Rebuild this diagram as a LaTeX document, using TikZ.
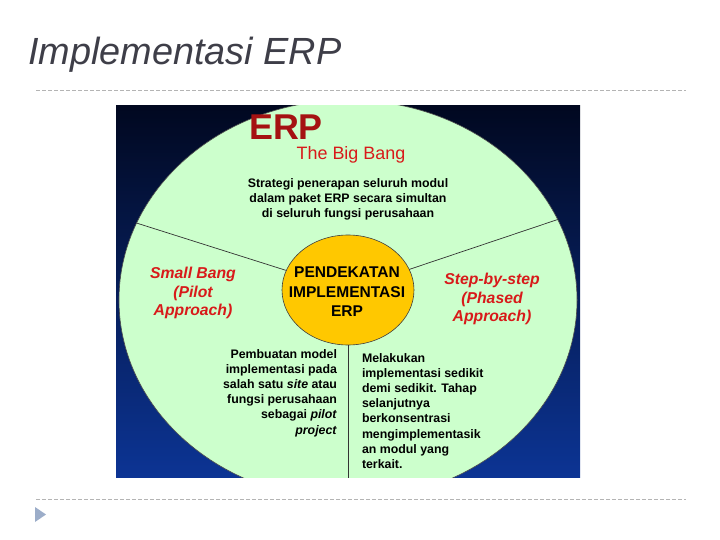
\documentclass[tikz,border=0pt]{standalone}
\usepackage{fontspec}
\setmainfont{Liberation Sans}
\usetikzlibrary{shapes.geometric}

\definecolor{navytop}{HTML}{010820}
\definecolor{navymid}{HTML}{08236C}
\definecolor{navybot}{HTML}{0C3494}
\definecolor{palegreen}{HTML}{CCFFCC}
\definecolor{hubgold}{HTML}{FFC800}
\definecolor{erpred}{HTML}{A51212}
\definecolor{labelred}{HTML}{D81A1A}
\definecolor{titlegray}{HTML}{3E3E48}
\definecolor{rulegray}{HTML}{B4B4B4}
\definecolor{bulletblue}{HTML}{9CADC9}

\begin{document}
\begin{tikzpicture}[x=1bp, y=-1bp,
    every node/.style={inner sep=0pt, outer sep=0pt},
    rule/.style={rulegray, line width=0.8bp, dash pattern=on 4bp off 2bp},
    spoke/.style={black!80, line width=0.7bp},
    body/.style={font=\bfseries\fontsize{12.4}{15.2}\selectfont, text=black},
    method/.style={font=\bfseries\itshape\fontsize{15.8}{19}\selectfont, text=labelred, align=center}]
    \useasboundingbox (0,0) rectangle (720,540);
    \node[anchor=base west, text=titlegray, font=\itshape\fontsize{38}{44}\selectfont] (title) at (28,65) {Implementasi ERP};
    \coordinate (ruleTL) at (36,90);
    \coordinate (ruleTR) at (686,90);
    \coordinate (ruleBL) at (36,499);
    \coordinate (ruleBR) at (686,499);
    \draw[rule] (ruleTL) -- (ruleTR);
    \draw[rule] (ruleBL) -- (ruleBR);
    \fill[bulletblue] (35,507) -- (46,514.5) -- (35,522) -- cycle;
    \shade[top color=navytop, middle color=navymid, bottom color=navybot] (116,106) rectangle (580,477);
    \begin{scope}
        \clip (116,106) rectangle (580,477);
        \node[ellipse, draw=black!70, line width=0.6bp, fill=palegreen, minimum width=458bp, minimum height=400bp] (oval) at (348,300) {};
        \node[ellipse, draw=black!75, line width=0.6bp, fill=hubgold, minimum width=132bp, minimum height=110bp] (hub) at (348,290) {};
        \draw[spoke] (hub) -- (oval.160);
        \draw[spoke] (hub) -- (oval.21);
        \draw[spoke] (hub) -- (oval.south);
    \end{scope}
    \node[text=erpred, font=\bfseries\fontsize{36}{40}\selectfont] (erp) at (286,127) {ERP};
    \node[anchor=base, text=labelred, font=\fontsize{18}{20}\selectfont] (bigbang) at (351,160) {The Big Bang};
    \node[body, align=center] (bigbangtext) at (348,199) {Strategi penerapan seluruh modul\\dalam paket ERP secara simultan\\di seluruh fungsi perusahaan};
    \node[font=\bfseries\fontsize{15.6}{19.5}\selectfont, align=center] (hubtext) at (347,292) {PENDEKATAN\\IMPLEMENTASI\\ERP};
    \node[method] (smallbang) at (193,293) {Small Bang\\(Pilot\\Approach)};
    \node[method] (stepwise) at (492,299) {Step-by-step\\(Phased\\Approach)};
    \node[body, align=right, anchor=east] (smallbangtext) at (337,393) {Pembuatan model\\implementasi pada\\salah satu \textit{site} atau\\fungsi perusahaan\\sebagai \textit{pilot}\\\textit{project}};
    \node[body, align=left, anchor=west] (stepwisetext) at (362,411) {Melakukan\\implementasi sedikit\\demi sedikit. Tahap\\selanjutnya\\berkonsentrasi\\mengimplementasik\\an modul yang\\terkait.};
\end{tikzpicture}
\end{document}
